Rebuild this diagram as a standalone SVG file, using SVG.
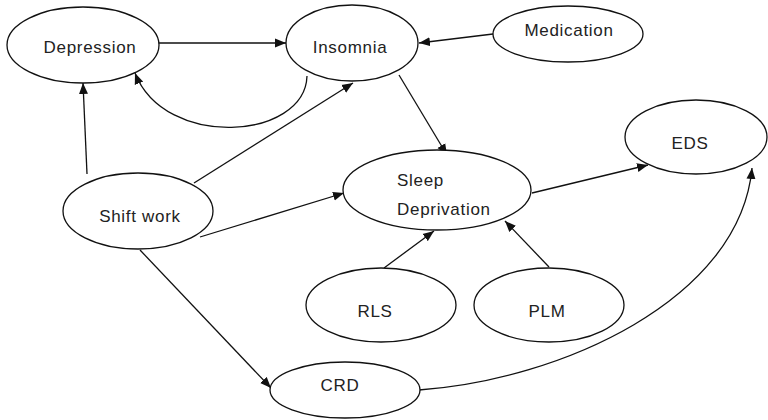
<svg xmlns="http://www.w3.org/2000/svg" width="768" height="420" viewBox="0 0 768 420">
<defs>
<marker id="arr" markerUnits="userSpaceOnUse" markerWidth="12" markerHeight="10" refX="11" refY="5" orient="auto">
<path d="M0,0.5 L11,5 L0,9.5 Z" fill="#111"/>
</marker>
<style>
.n ellipse{fill:#fff;stroke:#111;stroke-width:1.3}
.n text{font-family:"Liberation Sans",Arial,sans-serif;font-size:17px;fill:#222;letter-spacing:0.7px}
.c path{fill:none;stroke:#111;stroke-width:1.3;marker-end:url(#arr)}
</style>
</defs>
<rect width="768" height="420" fill="#fff"/>
<g class="c" id="connectors">
<path d="M158,43 L286,43"/>
<path d="M307,76 C305,140 165,150 135,73"/>
<path d="M87,174 L83,83"/>
<path d="M194,183 L353,83"/>
<path d="M200,237 L344,193"/>
<path d="M140,250 L271,388"/>
<path d="M399,75 L447,155"/>
<path d="M493,34 L419,43"/>
<path d="M532,193 L648,165"/>
<path d="M384,268 L434,231"/>
<path d="M549,267 L505,221"/>
<path d="M419,390 C560,380 740,300 752,168"/>
</g>
<g class="n" id="depression"><ellipse cx="83" cy="45" rx="76" ry="38"/><text x="90" y="53" text-anchor="middle">Depression</text></g>
<g class="n" id="insomnia"><ellipse cx="352" cy="43" rx="66" ry="38"/><text x="350" y="53" text-anchor="middle">Insomnia</text></g>
<g class="n" id="medication"><ellipse cx="568" cy="34" rx="75" ry="28"/><text x="569" y="36" text-anchor="middle">Medication</text></g>
<g class="n" id="eds"><ellipse cx="696" cy="137" rx="71" ry="37"/><text x="690" y="149" text-anchor="middle">EDS</text></g>
<g class="n" id="sleep"><ellipse cx="437" cy="190" rx="94" ry="40"/><text x="397" y="186">Sleep</text><text x="397" y="215">Deprivation</text></g>
<g class="n" id="shiftwork"><ellipse cx="138" cy="211" rx="75" ry="38"/><text x="140" y="222" text-anchor="middle">Shift work</text></g>
<g class="n" id="rls"><ellipse cx="381" cy="305" rx="75" ry="37"/><text x="375" y="317" text-anchor="middle">RLS</text></g>
<g class="n" id="plm"><ellipse cx="549" cy="305" rx="75" ry="37"/><text x="547" y="317" text-anchor="middle">PLM</text></g>
<g class="n" id="crd"><ellipse cx="345" cy="390" rx="75" ry="28"/><text x="340" y="391" text-anchor="middle">CRD</text></g>
</svg>
